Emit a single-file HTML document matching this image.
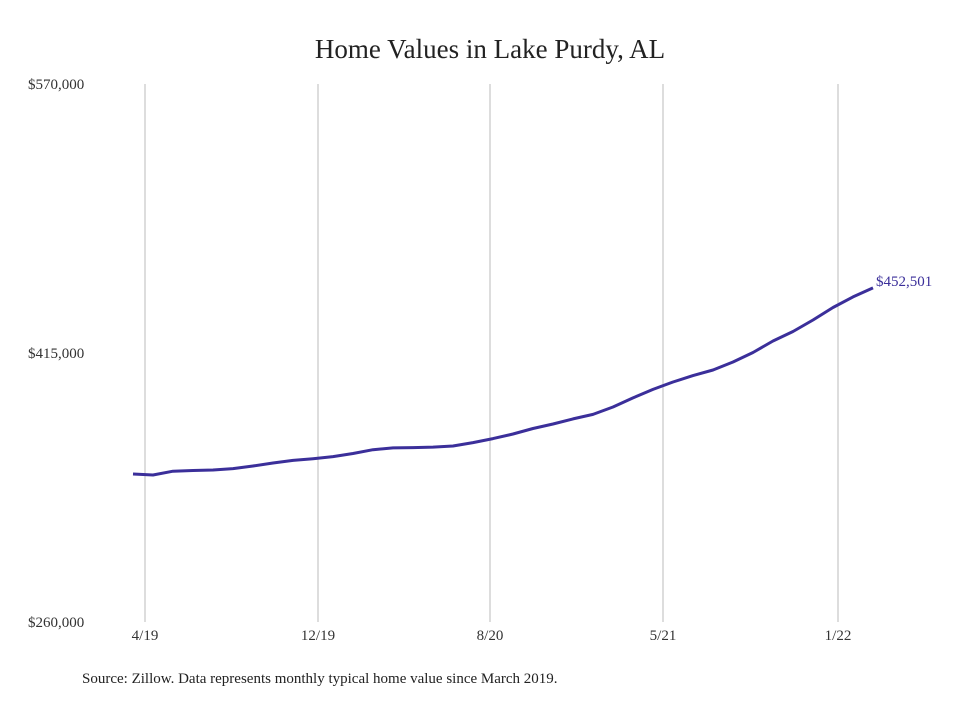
<!DOCTYPE html>
<html><head><meta charset="utf-8"><style>
body{margin:0;background:#fff;}
svg text{font-family:"Liberation Serif",serif;}
</style></head><body>
<svg width="980" height="699" xmlns="http://www.w3.org/2000/svg">
<rect width="980" height="699" fill="#fff"/>
<text x="490" y="58" text-anchor="middle" font-size="27" fill="#222">Home Values in Lake Purdy, AL</text>
<g id="grid"></g><g id="yaxis"></g><g id="xaxis"></g>
<path id="line" fill="none" stroke="#3b2f9a" stroke-width="3" stroke-linejoin="round"/>
<text id="endlabel" font-size="15" fill="#3b2f9a"></text>
<text x="82" y="683" font-size="15" fill="#222">Source: Zillow. Data represents monthly typical home value since March 2019.</text>
</svg>
<script>
const values=[345300,344700,346900,347300,347600,348400,349900,351600,353100,354100,355300,357100,359300,360300,360500,360800,361400,363400,365700,368300,371500,374100,377000,379600,383900,389100,394000,398300,402000,405200,409800,415300,421900,427400,434000,441200,447300,452501];
const yTicks=[260000,415000,570000];
const yTickLabels=["$260,000","$415,000","$570,000"];
const xLabels=["4/19","12/19","8/20","5/21","1/22"];
const xLabelPos=[0.6,9.25,17.85,26.5,35.25];
const NS="http://www.w3.org/2000/svg";
const yMin=260000,yMax=570000,plotTop=84,plotBot=622,plotLeft=133,plotRight=873;
const ys=v=>plotBot-(v-yMin)/(yMax-yMin)*(plotBot-plotTop);
const xs=i=>plotLeft+i*(plotRight-plotLeft)/(values.length-1);
const grid=document.getElementById('grid'),ya=document.getElementById('yaxis'),xa=document.getElementById('xaxis');
xLabelPos.forEach((p,k)=>{
 const x=xs(p);
 const l=document.createElementNS(NS,'line');
 l.setAttribute('x1',x);l.setAttribute('x2',x);l.setAttribute('y1',plotTop);l.setAttribute('y2',plotBot);
 l.setAttribute('stroke','#bbb');l.setAttribute('stroke-width','1');
 
 
 grid.appendChild(l);
 const t=document.createElementNS(NS,'text');
 t.setAttribute('x',x);t.setAttribute('y',640);t.setAttribute('text-anchor','middle');t.setAttribute('font-size','15');t.setAttribute('fill','#333');
 t.textContent=xLabels[k];
 
 
 xa.appendChild(t);
});
yTicks.forEach((v,k)=>{
 const t=document.createElementNS(NS,'text');
 t.setAttribute('x',28);t.setAttribute('y',ys(v)+5);t.setAttribute('font-size','15');t.setAttribute('fill','#333');
 t.textContent=yTickLabels[k];
 
 
 ya.appendChild(t);
});
document.getElementById('line').setAttribute('d',values.map((v,i)=>(i?'L':'M')+xs(i).toFixed(1)+','+ys(v).toFixed(1)).join(''));
const endEl=document.getElementById('endlabel'),lastIdx=values.length-1;
endEl.setAttribute('x',xs(lastIdx)+3);endEl.setAttribute('y',ys(values[lastIdx])-2);
endEl.textContent='$'+values[lastIdx].toLocaleString('en-US');
</script>
</body></html>
